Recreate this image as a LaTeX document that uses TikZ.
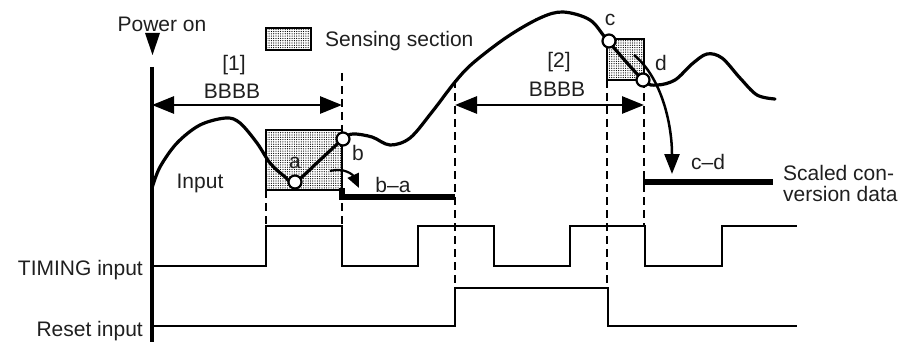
\documentclass[tikz,border=0pt]{standalone}
\usepackage{fontspec}
\setmainfont{Liberation Sans}
\usetikzlibrary{arrows.meta,patterns}
\pgfdeclarepatternformonly{densedots}{\pgfpoint{-1pt}{-1pt}}{\pgfpoint{1pt}{1pt}}{\pgfpoint{2.3pt}{2.3pt}}{%
  \pgfpathcircle{\pgfpoint{0pt}{0pt}}{0.62pt}\pgfusepath{fill}}
\begin{document}
\begin{tikzpicture}[x=1pt,y=-1pt,
  lbl/.style={font=\fontsize{21}{24}\selectfont, text=black!88, inner sep=0pt},
  sig/.style={line width=2.8pt, line join=miter},
  dashv/.style={line width=2.8pt, dash pattern=on 8pt off 5pt},
  outl/.style={line width=5.5pt},
  sens/.style={draw, line width=1.8pt, pattern=densedots, pattern color=black},
  pt/.style={circle, draw, fill=white, line width=2.2pt, minimum size=13pt, inner sep=0pt},
  curve/.style={line width=3.2pt, line cap=round},
  dimarrow/.style={line width=2.8pt, {Triangle[length=22pt,width=17pt]}-{Triangle[length=22pt,width=17pt]}},
]
\useasboundingbox (0,0) rectangle (912,342);

% sensing boxes
\path[sens] (266,28) rectangle (311,50);
\path[sens] (266,130) rectangle (342,190);
\path[sens] (607,39) rectangle (644,80);

% axis and power-on mark
\draw[line width=3.6pt] (152,67) -- (152,342);
\fill (145,33) -- (160,33) -- (152.5,55) -- cycle;

% dashed guide lines
\draw[dashv] (266,190) -- (266,226);
\draw[dashv] (342,73) -- (342,226);
\draw[dashv] (455,80) -- (455,288);
\draw[dashv] (607,80) -- (607,288);
\draw[dashv] (644,80) -- (644,226);

% dimension arrows
\draw[dimarrow] (152,105) -- (342,105);
\draw[dimarrow] (455,105) -- (644,105);

% input curve
\draw[curve] plot[smooth, tension=0.55] coordinates {
  (152,188) (160,167) (177,143) (200,125) (226,118) (240,123) (257,143)
  (270,163) (284,176) (295,182) (320,160) (343,139) (353,134) (372,137)
  (390,145) (410,138) (432,112) (455,82) (473,63) (507,37) (540,18)
  (563,12) (590,20) (608,41) (643,80) (657,85) (675,80) (692,64)
  (707,54) (722,58) (740,78) (757,95) (775,99)};

% output lines
\draw[outl] (342,188) -- (342,197) -- (455,197);
\draw[outl] (643,182) -- (773,182);

% sample points
\node[pt] (a) at (295,182) {};
\node[pt] (b) at (343,139) {};
\node[pt] (c) at (609,41) {};
\node[pt] (d) at (643,80) {};

% conversion arrows
\coordinate (ar1s) at (330,171);
\coordinate (ar1e) at (359,188);
\draw[line width=2.2pt, -{Triangle[length=14pt,width=12pt]}] (ar1s) .. controls (344,167) and (353,175) .. (ar1e);
\coordinate (ar2s) at (634,55);
\coordinate (ar2e) at (672,174);
\draw[line width=2.5pt, -{Triangle[length=20pt,width=15pt]}] (ar2s) .. controls (662,78) and (672,125) .. (ar2e);

% timing signals
\draw[sig] (153,266) -- (266,266) -- (266,226) -- (342,226) -- (342,266) -- (418,266)
  -- (418,226) -- (494,226) -- (494,266) -- (570,266) -- (570,226) -- (645,226)
  -- (645,266) -- (722,266) -- (722,226) -- (797,226);
\draw[sig] (153,326) -- (455,326) -- (455,288) -- (608,288) -- (608,326) -- (797,326);

% labels
\node[lbl] (pwr) at (162,24) {Power on};
\node[lbl, anchor=west] (leg) at (325,41) {Sensing section};
\node[lbl] (n1) at (234,65) {[1]};
\node[lbl] (b1) at (232,91) {BBBB};
\node[lbl] (n2) at (559,62) {[2]};
\node[lbl] (b2) at (557,89) {BBBB};
\node[lbl] (inp) at (200,183) {Input};
\node[lbl] (la) at (295,163) {a};
\node[lbl] (lb) at (358,153) {b};
\node[lbl] (lba) at (393,185) {b–a};
\node[lbl] (lc) at (610,20) {c};
\node[lbl] (ld) at (661,63) {d};
\node[lbl] (lcd) at (708,162) {c–d};
\node[lbl, anchor=west] (scd1) at (783,173) {Scaled con-};
\node[lbl, anchor=west] (scd2) at (783,194) {version data};
\node[lbl, anchor=east] (tim) at (143,270) {TIMING input};
\node[lbl, anchor=east] (rst) at (143,331) {Reset input};
\end{tikzpicture}
\end{document}
